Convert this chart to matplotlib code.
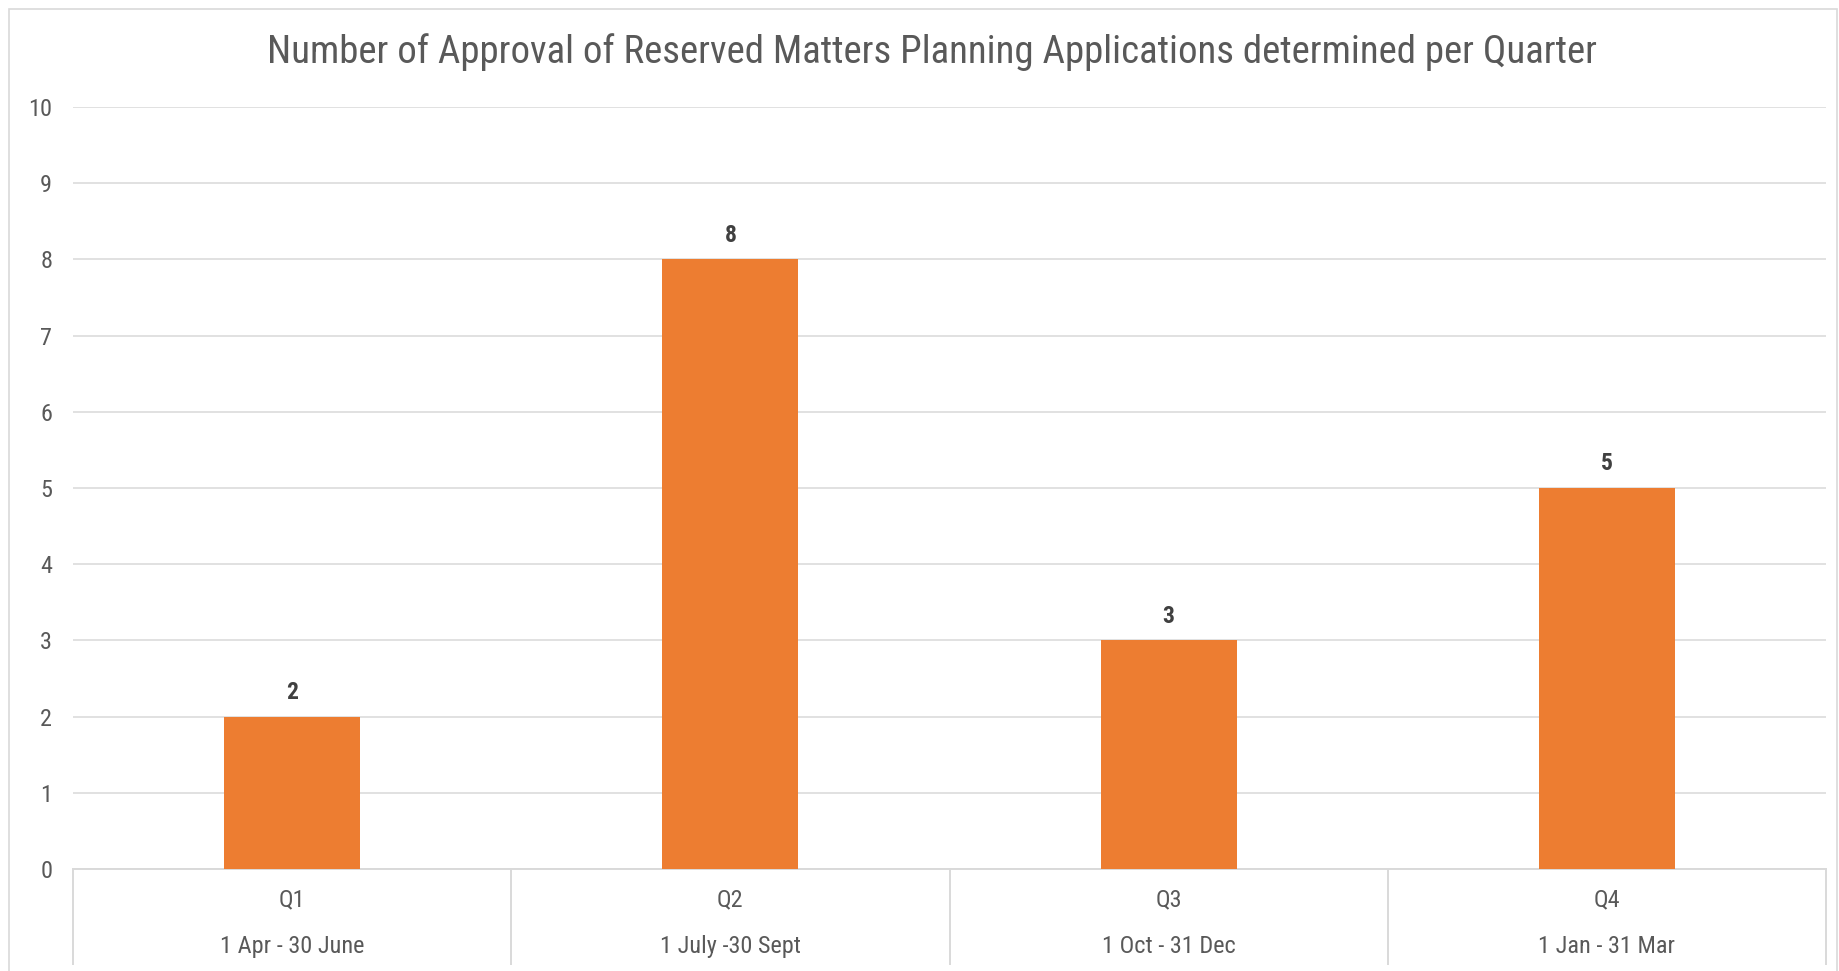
import matplotlib
matplotlib.use("Agg")
import matplotlib.pyplot as plt
from matplotlib.patches import Rectangle
from matplotlib.lines import Line2D

quarters = ["Q1", "Q2", "Q3", "Q4"]
periods = ["1 Apr - 30 June", "1 July -30 Sept", "1 Oct - 31 Dec", "1 Jan - 31 Mar"]
values = [2, 8, 3, 5]
title = "Number of Approval of Reserved Matters Planning Applications determined per Quarter"

FONT = ["Roboto Condensed", "DejaVu Sans"]
plt.rcParams["font.family"] = FONT

W, H = 1839, 971
fig = plt.figure(figsize=(W / 100, H / 100), dpi=100)
fig.patch.set_facecolor("white")

# outer frame
fig.add_artist(Rectangle((9 / W, -0.05), (1837 - 9) / W, (H - 9) / H + 0.05,
                         transform=fig.transFigure, fill=False,
                         edgecolor="#d9d9d9", linewidth=1.2))

left, right, top, bottom = 73, 1826, 107, 869
unit = (bottom - top) / 10.0
ax = fig.add_axes([left / W, (H - bottom) / H, (right - left) / W, (bottom - top) / H])
ax.set_xlim(-0.5, len(values) - 0.5)
ax.set_ylim(0, 10)
ax.set_yticks(range(0, 11))
ax.grid(axis="y", color="#d9d9d9", linewidth=1.1)
ax.set_axisbelow(True)
for s in ["top", "right", "left"]:
    ax.spines[s].set_visible(False)
ax.spines["bottom"].set_color("#d9d9d9")
ax.spines["bottom"].set_linewidth(1.4)
ax.tick_params(axis="y", length=0, pad=15, labelsize=17.5, labelcolor="#595959")
ax.tick_params(axis="x", length=0, labelbottom=False)

x = list(range(len(values)))
bars = ax.bar(x, values, width=0.31, color="#ed7d31", zorder=3)
for xi, v in zip(x, values):
    ax.annotate(str(v), (xi, v), xytext=(0, 9), textcoords="offset points",
                ha="center", va="bottom", fontsize=17, fontweight="bold", color="#404040")

# category table below axis
for i in range(len(values) + 1):
    ax.add_line(Line2D([i - 0.5, i - 0.5], [0, -95 / unit], color="#d9d9d9",
                       linewidth=1.4, clip_on=False))
for xi, q, p in zip(x, quarters, periods):
    ax.text(xi, -31 / unit, q, ha="center", va="center", fontsize=17.5, color="#595959")
    ax.text(xi, -77 / unit, p, ha="center", va="center", fontsize=17.5, color="#595959")

fig.text(932 / W, 1 - 52 / H, title, ha="center", va="center", fontsize=28, color="#595959")

fig.savefig("out.png", dpi=100, facecolor="white")
